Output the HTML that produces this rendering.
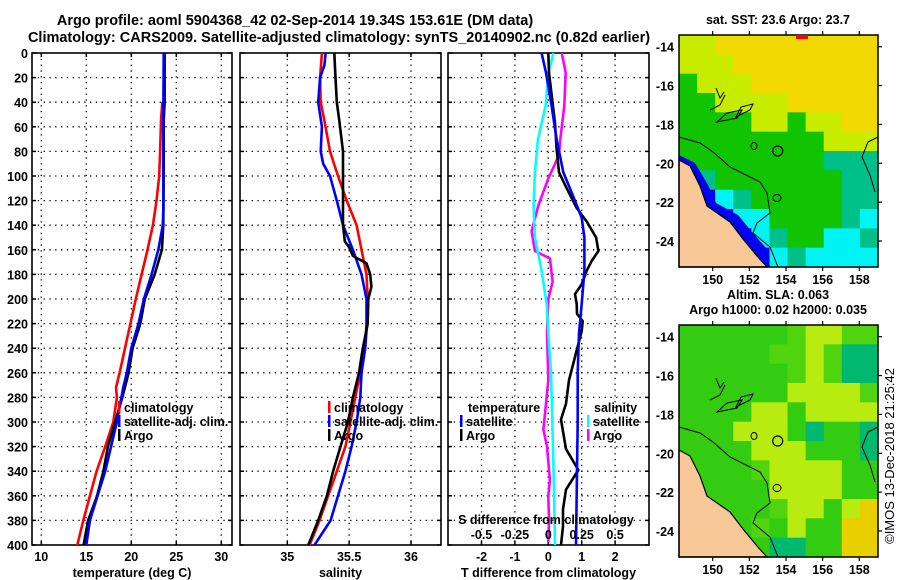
<!DOCTYPE html>
<html><head><meta charset="utf-8">
<style>
html,body{margin:0;padding:0;background:#fff;}
svg{display:block;font-family:"Liberation Sans",sans-serif;font-weight:bold;}
</style></head>
<body>
<svg id="fig" width="900" height="580" viewBox="0 0 900 580" xmlns="http://www.w3.org/2000/svg">
<g id="titles" font-size="14.5" text-anchor="middle">
<text x="295" y="25">Argo profile: aoml 5904368_42 02-Sep-2014 19.34S 153.61E (DM data)</text>
<text x="339" y="42">Climatology: CARS2009. Satellite-adjusted climatology: synTS_20140902.nc (0.82d earlier)</text>
</g>
<g id="layer"></g>
<text x="0" y="0" font-size="13" transform="translate(894,456) rotate(-90)" text-anchor="middle" style="font-weight:normal">©IMOS 13-Dec-2018 21:25:42</text>
</svg>
<script>
// ---- data ----
const depthTicks=[0,20,40,60,80,100,120,140,160,180,200,220,240,260,280,300,320,340,360,380,400];
const tTicks=[10,15,20,25,30];
const sTicks=[35,35.5,36];
const dTTicks=[-2,-1,0,1,2];
const dSTicks=[-0.5,-0.25,0,0.25,0.5];
const dSTickLabels=["-0.5","-0.25","0","0.25","0.5"];
const lonTicks=[150,152,154,156,158];
const latTicks=[-14,-16,-18,-20,-22,-24];

const tClimDepth=[40,55,80,100,120,140,160,180,200,220,240,260,272,280,300,320,340,360,380,400];
const tClimVal=[23.45,23.3,23.2,23.1,22.8,22.4,21.8,21.15,20.5,19.9,19.3,18.7,18.3,18.4,18.0,17.1,16.15,15.4,14.67,14.0];
const tSatDepth=[0,55,128,140,160,180,200,220,240,260,272,280,300,340,380,400];
const tSatVal=[23.6,23.55,23.55,23.5,23.0,22.25,21.4,20.8,20.0,19.5,19.1,18.9,18.4,17.1,15.4,15.0];
const tArgoDepth=[0,40,55,100,140,160,180,200,220,240,260,280,300,320,340,360,380,400];
const tArgoVal=[23.7,23.7,23.6,23.6,23.55,23.4,22.6,21.5,21.0,20.15,19.7,19.0,18.2,17.4,16.9,16.2,15.2,14.7];

const sClimDepth=[0,20,40,55,80,100,120,140,160,180,200,215,240,260,280,300,320,340,360,380,400];
const sClimVal=[35.28,35.265,35.27,35.30,35.345,35.41,35.48,35.56,35.60,35.64,35.65,35.65,35.63,35.59,35.55,35.51,35.47,35.40,35.33,35.26,35.18];
const sSatDepth=[0,10,20,40,60,80,90,100,120,140,160,180,200,220,240,260,280,300,320,340,360,380,400];
const sSatVal=[35.31,35.30,35.265,35.25,35.28,35.27,35.29,35.345,35.40,35.45,35.53,35.60,35.64,35.64,35.63,35.60,35.59,35.56,35.52,35.47,35.41,35.35,35.22];
const sArgoDepth=[0,20,40,55,80,100,140,153,158,165,171,180,190,200,220,240,260,280,300,320,340,360,380,400];
const sArgoVal=[35.38,35.39,35.40,35.42,35.45,35.45,35.45,35.465,35.50,35.53,35.64,35.67,35.68,35.655,35.65,35.61,35.58,35.53,35.49,35.43,35.37,35.32,35.25,35.17];

const dTSatDepth=[0,16,43,70,97,116,134,150,177,204,228,260,300,340,400];
const dTSatVal=[-0.2,-0.07,0.1,0.25,0.45,0.74,1.0,1.08,1.08,1.0,0.92,0.88,0.88,0.86,0.83];
const dTArgoDepth=[0,16,57,78,97,110,126,137,150,161,169,177,188,196,204,212,218,226,266,285,298,322,339,355,371,385,400];
const dTArgoVal=[0,0.02,0.2,0.25,0.32,0.55,0.85,1.15,1.43,1.5,1.3,1.15,1.0,0.8,0.85,0.86,1.03,1.0,0.62,0.53,0.38,0.53,0.9,0.53,0.44,0.44,0.38];
const dSSatDepth=[0,16,43,70,97,124,150,177,204,228,260,300,340,400];
const dSSatVal=[0.04,0.0,-0.02,-0.077,-0.1,-0.11,-0.1,-0.05,-0.012,0.0,0.02,0.03,0.04,0.05];
const dSArgoDepth=[0,16,43,70,83,102,124,145,161,167,186,200,226,266,306,320,347,360,380,398];
const dSArgoVal=[0.1,0.13,0.12,0.09,0.08,0.0,-0.075,-0.125,-0.1,0.012,0.032,0.0,-0.01,0.0,-0.037,-0.01,0.012,0.0,0.005,0.0];

// map colour grids (11 lon cols x 12 lat rows)
const sstGrid=[
"yyYYYYYYYYY",
"yyyYYYYYYYY",
"GyyyYYYYYYY",
"GGyyyyYYYYY",
"GGGGyyGyyYY",
"GGGGGGGGyyy",
"GGGGGGGGTTT",
"TTGGGGGGGTT",
"TBCTGGGGGTT",
"TTBCCGGGGTC",
"TTTBCTGGCCT",
"TTTTBCTCCCC"];
const slaGrid=[
"GGGGGGgyygg",
"GGGGGggygTT",
"GGGGGGgygTT",
"GGGGGGyyyyg",
"GGGGyyGyyyy",
"GGGyyyGTGGT",
"GGGGyyyGGGT",
"GGGGgyyyyGG",
"GGGGGyyyyGG",
"GGGGGgyyGyY",
"GGGGgGyGGYY",
"GGGGGTTGGYY"];
const sstColors={Y:"#f0d800",y:"#c8ec00",G:"#10c400",g:"#20b040",T:"#00c08a",C:"#00f4f4",B:"#0000f0"};
const slaColors={Y:"#e8d000",y:"#b8ec10",G:"#34cc10",g:"#50d410",T:"#00b870"};

// ---- helpers ----
const NS="http://www.w3.org/2000/svg";
const layer=document.getElementById('layer');
function mk(tag,attrs,parent){const e=document.createElementNS(NS,tag);for(const k in attrs)e.setAttribute(k,attrs[k]);(parent||layer).appendChild(e);return e;}
function txt(x,y,s,size,anchor,parent){const t=mk('text',{x:x,y:y,'font-size':size,'text-anchor':anchor||'middle'},parent);t.textContent=s;return t;}

const top0=53, bot=545;
function yD(d){return top0+(d/400)*(bot-top0);}
function lin(v0,p0,v1,p1){return v=>p0+(v-v0)*(p1-p0)/(v1-v0);}

const panels=[
 {name:'temperature-panel',x0:32,x1:232,sx:lin(10,41.3,30,221.3),ticks:tTicks,labels:tTicks.map(String),xlabel:'temperature (deg C)',ylabels:true},
 {name:'salinity-panel',x0:240,x1:441,sx:lin(35,287.3,36,411),ticks:sTicks,labels:["35","35.5","36"],xlabel:'salinity',ylabels:false},
 {name:'difference-panel',x0:448,x1:649,sx:lin(0,548.3,1,581.7),ticks:dTTicks,labels:dTTicks.map(String),xlabel:'T difference from climatology',ylabels:false}
];
panels.forEach(p=>{
  const g=mk('g',{});
  
  
  depthTicks.forEach(d=>{ if(d>0&&d<400){mk('line',{x1:p.x0,x2:p.x1,y1:yD(d),y2:yD(d),stroke:'#000','stroke-width':1.3,'stroke-dasharray':'1.3,4.5'},g);} });
  p.ticks.forEach(v=>{const x=p.sx(v);mk('line',{x1:x,x2:x,y1:top0,y2:bot,stroke:'#000','stroke-width':1.3,'stroke-dasharray':'1.3,4.5'},g);});
  depthTicks.forEach(d=>{mk('line',{x1:p.x0,x2:p.x0+4,y1:yD(d),y2:yD(d),stroke:'#000','stroke-width':1.5},g);mk('line',{x1:p.x1-4,x2:p.x1,y1:yD(d),y2:yD(d),stroke:'#000','stroke-width':1.5},g);});
  p.ticks.forEach((v,i)=>{const x=p.sx(v);mk('line',{x1:x,x2:x,y1:bot-4,y2:bot,stroke:'#000','stroke-width':1.5},g);mk('line',{x1:x,x2:x,y1:top0,y2:top0+4,stroke:'#000','stroke-width':1.5},g);
    const t=txt(x,561,p.labels[i],12.5,'middle',g);});
  const xl=txt((p.x0+p.x1)/2,577,p.xlabel,12.5,'middle',g);
  
  
  if(p.ylabels){depthTicks.forEach(d=>{const t=txt(28,yD(d)+5,String(d),12.5,'end',g);});}
  mk('rect',{x:p.x0,y:top0,width:p.x1-p.x0,height:bot-top0,fill:'none',stroke:'#000','stroke-width':1.6},g);
  p.g=g;
});

function profile(p,depths,vals,color,name,sx,w){
  const f=sx||p.sx;
  const pts=depths.map((d,i)=>f(vals[i]).toFixed(1)+','+yD(d).toFixed(1)).join(' ');
  const l=mk('polyline',{points:pts,fill:'none',stroke:color,'stroke-width':w||2.6,'stroke-linejoin':'round'},p.g);
  
  
}
profile(panels[0],tClimDepth,tClimVal,'#f00','temperature-climatology-line');
profile(panels[0],tArgoDepth,tArgoVal,'#000','temperature-argo-line');
profile(panels[0],tSatDepth,tSatVal,'#00f','temperature-satellite-line');
profile(panels[1],sClimDepth,sClimVal,'#f00','salinity-climatology-line');
profile(panels[1],sSatDepth,sSatVal,'#00f','salinity-satellite-line');
profile(panels[1],sArgoDepth,sArgoVal,'#000','salinity-argo-line');
const sxS=lin(0,548.3,0.25,581.7);
profile(panels[2],dSArgoDepth,dSArgoVal,'#f0f','salinity-argo-diff-line',sxS);
profile(panels[2],dSSatDepth,dSSatVal,'#0ff','salinity-satellite-diff-line',sxS);
profile(panels[2],dTArgoDepth,dTArgoVal,'#000','temperature-argo-diff-line');
profile(panels[2],dTSatDepth,dTSatVal,'#00f','temperature-satellite-diff-line');

const sAx=txt(546,524,'S difference from climatology',12.5,'middle',panels[2].g);


dSTicks.forEach((v,i)=>{const t=txt(sxS(v),539,dSTickLabels[i],12.5,'middle',panels[2].g);
  
  });

function legend(x,y,items,parent,name){
  const g=mk('g',{},parent);
  
  
  items.forEach((it,i)=>{
    const yy=y+i*14;
    if(it.c){mk('rect',{x:x,y:yy-11,width:2.5,height:12,fill:it.c},g);}
    txt(x+(it.c?6:0),yy,it.t,12.5,'start',g);
  });
}
legend(118,412,[{t:'climatology',c:'#f00'},{t:'satellite-adj. clim.',c:'#00f'},{t:'Argo',c:'#000'}],panels[0].g,'temperature-legend');
legend(328,412,[{t:'climatology',c:'#f00'},{t:'satellite-adj. clim.',c:'#00f'},{t:'Argo',c:'#000'}],panels[1].g,'salinity-legend');
legend(468,412,[{t:'temperature'}],panels[2].g,'t-diff-legend-title');
legend(460,426,[{t:'satellite',c:'#00f'},{t:'Argo',c:'#000'}],panels[2].g,'t-diff-legend');
legend(594,412,[{t:'salinity'}],panels[2].g,'s-diff-legend-title');
legend(587,426,[{t:'satellite',c:'#0ff'},{t:'Argo',c:'#f0f'}],panels[2].g,'s-diff-legend');

// ---- maps ----
function drawMap(y0,grid,colors,name,titles){
  const x0=679,x1=878,y1=y0+232;
  const g=mk('g',{});
  
  
  const lonS=lin(150,712.7,158,859.3);
  const latS=lin(-14,y0+11.7,-24,y0+206);
  const cw=(x1-x0)/11,ch=(y1-y0)/12;
  grid.forEach((row,r)=>{[...row].forEach((c,k)=>{
    mk('rect',{x:x0+k*cw,y:y0+r*ch,width:cw+0.6,height:ch+0.6,fill:colors[c]},g);
  });});
  const dy=y0-35;
  const land=[[679,160],[690,166],[700,186],[707,206],[730,222],[743,239],[757,256],[767,267],[679,267]];
  if(name==='sst-map'){
    const band=[[679,155],[695,163],[708,185],[716,203],[738,215],[752,232],[766,248],[770,267],[767,267],[757,256],[743,239],[730,222],[707,206],[700,186],[690,166],[679,160]];
    mk('polygon',{points:band.map(p=>p[0]+','+(p[1]+dy)).join(' '),fill:'#0000f0'},g);
  }
  mk('polygon',{points:land.map(p=>p[0]+','+(p[1]+dy)).join(' '),fill:'#f8c898',stroke:'#000','stroke-width':1.2},g);
  const cont=[[679,137],[700,143],[713,152],[730,167],[760,182],[767,193],[770,213],[757,223],[753,233],[770,247],[778,267]];
  mk('polyline',{points:cont.map(p=>p[0]+','+(p[1]+dy)).join(' '),fill:'none',stroke:'#000','stroke-width':1},g);
  const cont2=[[878,137],[868,142],[862,157],[870,175],[875,192]];
  mk('polyline',{points:cont2.map(p=>p[0]+','+(p[1]+dy)).join(' '),fill:'none',stroke:'#000','stroke-width':1},g);
  mk('circle',{cx:777.7,cy:151+dy,r:5,fill:'none',stroke:'#000','stroke-width':1.2},g);
  mk('ellipse',{cx:754,cy:146+dy,rx:3,ry:3.5,fill:'none',stroke:'#000','stroke-width':1},g);
  mk('ellipse',{cx:777,cy:198+dy,rx:4,ry:3.5,fill:'none',stroke:'#000','stroke-width':1},g);
  mk('path',{d:`M716 ${88+dy} l4 10 l4 -6 M710 ${110+dy} l10 -5 l5 -10 M717 ${122+dy} l20 -4 l5 -8 l-15 3 z M736 ${117+dy} l14 -7 l3 -6 l-12 3 z`,fill:'none',stroke:'#000','stroke-width':1},g);
  mk('rect',{x:x0,y:y0,width:x1-x0,height:y1-y0,fill:'none',stroke:'#000','stroke-width':1.5},g);
  lonTicks.forEach(v=>{const x=lonS(v);mk('line',{x1:x,x2:x,y1:y0-4,y2:y0,stroke:'#000','stroke-width':1.2},g);mk('line',{x1:x,x2:x,y1:y1,y2:y1+4,stroke:'#000','stroke-width':1.2},g);
    const t=txt(x,y1+17,String(v),12.5,'middle',g);});
  latTicks.forEach(v=>{const y=latS(v);mk('line',{x1:x1,x2:x1+4,y1:y,y2:y,stroke:'#000','stroke-width':1.2},g);
    const t=txt(674,y+5,String(v),12.5,'end',g);});
  const n=titles.length;
  titles.forEach((s,i)=>{const t=txt(778,y0-11-(n-1-i)*15,s,12.5,'middle',g);
    
    });
  return g;
}
const m1=drawMap(35,sstGrid,sstColors,'sst-map',['sat. SST: 23.6 Argo: 23.7']);
mk('rect',{x:796,y:35,width:12,height:4,fill:'#f00'},m1);
drawMap(325,slaGrid,slaColors,'sla-map',['Altim. SLA: 0.063','Argo h1000: 0.02 h2000: 0.035']);
</script>
</body></html>
